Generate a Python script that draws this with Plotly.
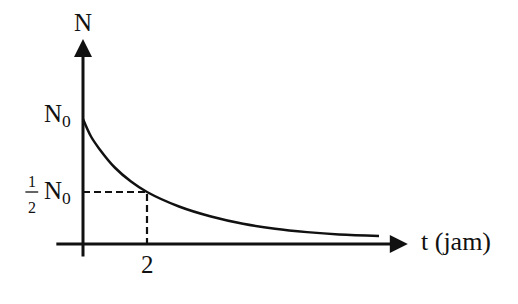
import plotly.graph_objects as go

# Data (N in units where N0 = 1 at the drawn height)
t_vals = [0, 0.25, 0.5, 1.0, 1.5, 2.0, 3.0, 4.0, 5.0, 6.0, 7.0, 8.0, 9.25]
n_vals = [1.0, 0.86, 0.765, 0.61, 0.50, 0.416, 0.30, 0.22, 0.162, 0.122, 0.095, 0.076, 0.064]
half_t = 2.0
half_n = 0.416
x_tick_labels = ["2"]
y_labels = ["N<sub>0</sub>", "N<sub>0</sub>"]
x_title = "t (jam)"
y_title = "N"

FONT = "Liberation Serif"
BLACK = "#111111"

fig = go.Figure()
fig.add_trace(go.Scatter(x=t_vals, y=n_vals, mode="lines",
                         line=dict(color=BLACK, width=2.5, shape="spline", smoothing=1.0),
                         hoverinfo="skip", showlegend=False))

# dashed guides
fig.add_trace(go.Scatter(x=[0, half_t, half_t], y=[half_n, half_n, 0], mode="lines",
                         line=dict(color=BLACK, width=2.2, dash="7px,4px"),
                         hoverinfo="skip", showlegend=False))

annotations = []
# Y axis arrow
annotations.append(dict(x=0, y=1.64, ax=0, ay=-0.112, xref="x", yref="y", axref="x", ayref="y",
                        showarrow=True, arrowhead=2, arrowsize=1.2, arrowwidth=3, arrowcolor=BLACK, text=""))
# X axis arrow
annotations.append(dict(x=10.15, y=0, ax=-0.88, ay=0, xref="x", yref="y", axref="x", ayref="y",
                        showarrow=True, arrowhead=2, arrowsize=1.2, arrowwidth=3, arrowcolor=BLACK, text=""))

annotations.append(dict(x=0, y=1.77, xref="x", yref="y", text=y_title, showarrow=False,
                        font=dict(family=FONT, size=25, color=BLACK)))
annotations.append(dict(x=10.5, y=0.02, xref="x", yref="y", text=x_title, showarrow=False,
                        xanchor="left", font=dict(family=FONT, size=26, color=BLACK)))
annotations.append(dict(x=-0.32, y=1.03, xref="x", yref="y", text=y_labels[0], showarrow=False,
                        xanchor="right", font=dict(family=FONT, size=25, color=BLACK)))
annotations.append(dict(x=-0.32, y=half_n, xref="x", yref="y", text=y_labels[1], showarrow=False,
                        xanchor="right", font=dict(family=FONT, size=25, color=BLACK)))
# fraction 1/2
annotations.append(dict(x=-1.6, y=half_n + 0.085, xref="x", yref="y", text="1", showarrow=False,
                        font=dict(family=FONT, size=16, color=BLACK)))
annotations.append(dict(x=-1.6, y=half_n - 0.125, xref="x", yref="y", text="2", showarrow=False,
                        font=dict(family=FONT, size=16, color=BLACK)))
annotations.append(dict(x=half_t, y=-0.165, xref="x", yref="y", text=x_tick_labels[0], showarrow=False,
                        font=dict(family=FONT, size=25, color=BLACK)))

shapes = [dict(type="line", x0=-1.8, x1=-1.4, y0=half_n, y1=half_n, xref="x", yref="y",
               line=dict(color=BLACK, width=1.3))]

fig.update_layout(
    width=518, height=304,
    margin=dict(l=0, r=0, t=0, b=0),
    paper_bgcolor="white", plot_bgcolor="white",
    xaxis=dict(range=[-83/32, (518-83)/32], visible=False, fixedrange=True),
    yaxis=dict(range=[-60/125, 244/125], visible=False, fixedrange=True),
    annotations=annotations, shapes=shapes,
)

fig.write_html("out.html")
